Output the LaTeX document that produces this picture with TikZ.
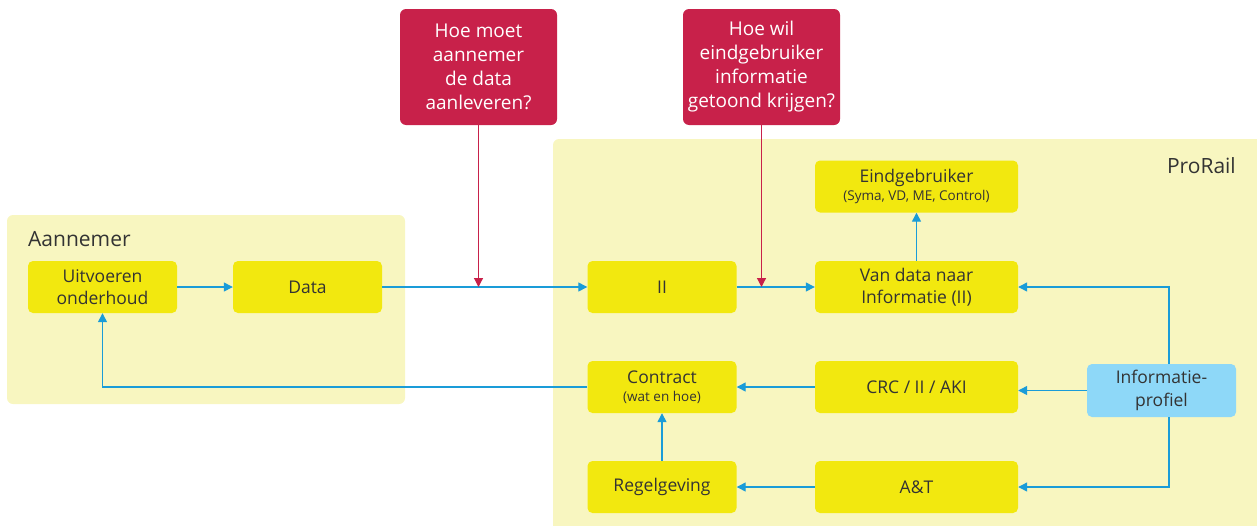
\documentclass[tikz,border=0pt]{standalone}
\usepackage{fontspec}
\setmainfont{Open Sans}
\usetikzlibrary{arrows.meta}
\definecolor{panel}{HTML}{F8F6C0}
\definecolor{boxy}{HTML}{F2E80F}
\definecolor{qred}{HTML}{C8214A}
\definecolor{flow}{HTML}{1A9CD8}
\definecolor{infob}{HTML}{8ED8F8}
\definecolor{ink}{HTML}{333333}
\begin{document}
\begin{tikzpicture}[x=1pt,y=-1pt,
  panelbox/.style={fill=panel, rounded corners=6pt},
  paneltitle/.style={text=ink, font=\fontsize{21}{25}\selectfont, inner sep=0pt},
  stepbox/.style={fill=boxy, rounded corners=5pt, text=ink, align=center,
    font=\fontsize{17.5}{22.5}\selectfont, inner sep=0pt, minimum height=52pt},
  narrow/.style={minimum width=149pt},
  wide/.style={minimum width=203pt},
  infobox/.style={stepbox, fill=infob, minimum width=149pt, minimum height=53pt},
  qbox/.style={fill=qred, rounded corners=6pt, text=white, align=center,
    font=\fontsize{19}{24}\selectfont, inner sep=0pt,
    minimum width=157pt, minimum height=116pt},
  flowline/.style={draw=flow, line width=1.3pt, -{Triangle[length=9pt,width=9pt]}},
  qline/.style={draw=qred, line width=1.2pt, -{Triangle[length=9pt,width=9pt]}}
]
\useasboundingbox (0,0) rectangle (1257,525);

% background panels
\fill[panelbox] (7,215) rectangle (405,404);
\fill[panelbox] (553,139) rectangle (1263,531);
\node[paneltitle, anchor=west] (tAann) at (28,239) {Aannemer};
\node[paneltitle, anchor=east] (tPro) at (1236,166) {ProRail};

% contractor side
\node[stepbox, narrow] (uit) at (102.5,287) {Uitvoeren\\onderhoud};
\node[stepbox, narrow] (data) at (307.5,287) {Data};

% questions
\node[qbox] (q1) at (478.5,67) {Hoe moet\\aannemer\\de data\\aanleveren?};
\node[qbox] (q2) at (761.5,67) {Hoe wil\\eindgebruiker\\informatie\\getoond krijgen?};

% ProRail side
\node[stepbox, wide] (vdn) at (916.5,287) {Van data naar\\Informatie (II)};
\node[stepbox, narrow] (ii) at (662,287) {II};
\node[stepbox, wide] (eind) at (916.5,186.5) {Eindgebruiker\\[-4pt]{\fontsize{13.5}{16}\selectfont (Syma, VD, ME, Control)}};
\node[stepbox, narrow] (con) at (662,387) {Contract\\[-4pt]{\fontsize{13.5}{16}\selectfont (wat en hoe)}};
\node[stepbox, wide] (crc) at (916.5,387) {CRC / II / AKI};
\node[infobox] (info) at (1161.5,390.5) {Informatie-\\profiel};
\node[stepbox, narrow] (reg) at (662,487) {Regelgeving};
\node[stepbox, wide] (at) at (916.5,487) {A\&T};

% junctions of the question arrows
\coordinate (j1) at (478.5,287);
\coordinate (j2) at (761.5,287);

% flows
\draw[flowline] (uit.east) -- (data.west);
\draw[flowline] (data.east) -- (ii.west);
\draw[flowline] (ii.east) -- (vdn.west);
\draw[flowline] (vdn.north) -- (eind.south);
\draw[flowline] ([xshift=7.5pt]info.north) |- (vdn.east);
\draw[flowline] (info.west) -- (crc.east |- info.west);
\draw[flowline] ([xshift=7.5pt]info.south) |- (at.east);
\draw[flowline] (crc.west) -- (con.east);
\draw[flowline] (at.west) -- (reg.east);
\draw[flowline] (reg.north) -- (con.south);
\draw[flowline] (con.west) -| (uit.south);

\draw[qline] (q1.south) -- (j1);
\draw[qline] (q2.south) -- (j2);
\end{tikzpicture}
\end{document}
